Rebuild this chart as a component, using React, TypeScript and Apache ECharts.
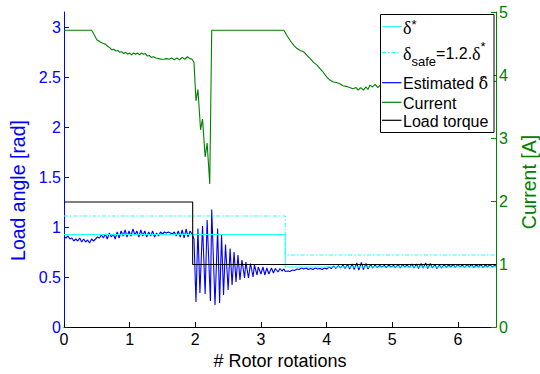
import React, { useEffect, useRef } from 'react';
import * as echarts from 'echarts';

const xTicks = [0, 1, 2, 3, 4, 5, 6];
const leftTicks = [0, 0.5, 1, 1.5, 2, 2.5, 3];
const rightTicks = [0, 1, 2, 3, 4, 5];

const loadTorque = [[0, 1.25], [1.96, 1.25], [1.96, 0.625], [6.58, 0.625]];
const deltaStar = [[0, 0.925], [3.37, 0.925], [3.37, 0.6], [6.58, 0.6]];
const deltaSafe = [[0, 1.11], [3.37, 1.11], [3.37, 0.72], [6.58, 0.72]];

const estimatedDelta = [
  [0.0, 0.9], [0.03, 0.89], [0.06, 0.91], [0.09, 0.88], [0.12, 0.89], [0.15, 0.86], [0.18, 0.88],
  [0.21, 0.86], [0.24, 0.89], [0.27, 0.85], [0.3, 0.88], [0.33, 0.85], [0.36, 0.87], [0.39, 0.84],
  [0.42, 0.88], [0.45, 0.86], [0.48, 0.88], [0.51, 0.9], [0.54, 0.89], [0.57, 0.92], [0.6, 0.89],
  [0.63, 0.93], [0.66, 0.88], [0.69, 0.94], [0.72, 0.9], [0.75, 0.93], [0.78, 0.88], [0.81, 0.95],
  [0.84, 0.89], [0.87, 0.96], [0.9, 0.91], [0.93, 0.97], [0.96, 0.9], [0.99, 0.96], [1.02, 0.91],
  [1.05, 0.98], [1.08, 0.92], [1.11, 0.96], [1.14, 0.9], [1.17, 0.97], [1.2, 0.91], [1.23, 0.96],
  [1.26, 0.9], [1.29, 0.95], [1.32, 0.91], [1.35, 0.96], [1.38, 0.9], [1.41, 0.94], [1.44, 0.91],
  [1.47, 0.95], [1.5, 0.93], [1.53, 0.95], [1.56, 0.94], [1.59, 0.95], [1.62, 0.94], [1.65, 0.93],
  [1.68, 0.95], [1.71, 0.91], [1.74, 0.96], [1.77, 0.9], [1.8, 0.97], [1.83, 0.89], [1.86, 0.98],
  [1.89, 0.9], [1.92, 0.96], [1.95, 0.93], [1.98, 0.88],
  [2.01, 0.25], [2.04, 0.985], [2.07, 0.34], [2.11, 1.01], [2.15, 0.33], [2.18, 1.07], [2.23, 0.26],
  [2.25, 1.175], [2.3, 0.22], [2.34, 0.985], [2.37, 0.24], [2.4, 0.92], [2.43, 0.32], [2.46, 0.825],
  [2.5, 0.37], [2.53, 0.785], [2.56, 0.42], [2.59, 0.75], [2.62, 0.45], [2.65, 0.72], [2.68, 0.47],
  [2.71, 0.67], [2.75, 0.49], [2.77, 0.65], [2.81, 0.49], [2.84, 0.635], [2.88, 0.5], [2.9, 0.62],
  [2.94, 0.52], [2.96, 0.6], [3.0, 0.53], [3.03, 0.6], [3.06, 0.52], [3.09, 0.59], [3.12, 0.53],
  [3.16, 0.59], [3.19, 0.54], [3.22, 0.585], [3.26, 0.55], [3.29, 0.585], [3.32, 0.56], [3.35, 0.58],
  [3.37, 0.555], [3.41, 0.56], [3.44, 0.555], [3.48, 0.57], [3.51, 0.565], [3.55, 0.58], [3.58, 0.575],
  [3.62, 0.59], [3.65, 0.58], [3.69, 0.59], [3.72, 0.575], [3.76, 0.585], [3.79, 0.575], [3.83, 0.59],
  [3.86, 0.58], [3.9, 0.585], [3.93, 0.575], [3.97, 0.59], [4.0, 0.58], [4.04, 0.6], [4.07, 0.585],
  [4.11, 0.61], [4.14, 0.585], [4.18, 0.615], [4.21, 0.59], [4.25, 0.62], [4.28, 0.585], [4.32, 0.625],
  [4.35, 0.58], [4.39, 0.63], [4.42, 0.575], [4.46, 0.64], [4.49, 0.57], [4.53, 0.645], [4.56, 0.575],
  [4.6, 0.635], [4.63, 0.58], [4.67, 0.625], [4.7, 0.59], [4.74, 0.62], [4.77, 0.595], [4.81, 0.615],
  [4.84, 0.6], [4.88, 0.615], [4.91, 0.595], [4.95, 0.62], [4.98, 0.6], [5.02, 0.615], [5.05, 0.595],
  [5.09, 0.625], [5.12, 0.59], [5.16, 0.625], [5.19, 0.6], [5.23, 0.62], [5.26, 0.595], [5.3, 0.63],
  [5.33, 0.59], [5.37, 0.63], [5.4, 0.585], [5.44, 0.635], [5.47, 0.59], [5.51, 0.64], [5.54, 0.585],
  [5.58, 0.635], [5.61, 0.59], [5.65, 0.625], [5.68, 0.585], [5.72, 0.62], [5.75, 0.59], [5.79, 0.625],
  [5.82, 0.595], [5.86, 0.62], [5.89, 0.6], [5.93, 0.625], [5.96, 0.595], [6.0, 0.625], [6.03, 0.6],
  [6.07, 0.62], [6.1, 0.595], [6.14, 0.625], [6.17, 0.6], [6.21, 0.625], [6.24, 0.595], [6.28, 0.62],
  [6.31, 0.6], [6.35, 0.625], [6.38, 0.595], [6.42, 0.62], [6.45, 0.6], [6.49, 0.625], [6.52, 0.6],
  [6.56, 0.615], [6.58, 0.61],
];

const current = [
  [0, 4.71], [0.42, 4.71], [0.45, 4.66], [0.48, 4.6], [0.5, 4.56], [0.53, 4.54], [0.56, 4.52],
  [0.6, 4.5], [0.63, 4.49], [0.66, 4.46], [0.7, 4.43], [0.73, 4.4], [0.76, 4.41], [0.79, 4.38],
  [0.82, 4.39], [0.85, 4.36], [0.88, 4.37], [0.91, 4.34], [0.94, 4.36], [0.97, 4.33], [1.0, 4.35],
  [1.03, 4.32], [1.06, 4.35], [1.09, 4.33], [1.12, 4.35], [1.15, 4.32], [1.18, 4.35], [1.21, 4.33],
  [1.24, 4.34], [1.27, 4.3], [1.3, 4.31], [1.33, 4.28], [1.36, 4.29], [1.4, 4.27], [1.44, 4.26],
  [1.48, 4.25], [1.52, 4.25], [1.56, 4.26], [1.6, 4.25], [1.64, 4.27], [1.68, 4.24], [1.72, 4.27],
  [1.76, 4.24], [1.8, 4.28], [1.84, 4.25], [1.88, 4.29], [1.92, 4.26], [1.95, 4.25], [1.98, 4.2],
  [2.01, 3.59], [2.04, 3.77], [2.08, 3.13], [2.11, 3.3], [2.15, 2.7], [2.18, 2.92], [2.22, 2.27],
  [2.25, 4.71], [3.35, 4.71], [3.4, 4.62], [3.45, 4.54], [3.5, 4.47], [3.55, 4.42], [3.6, 4.39],
  [3.65, 4.37], [3.7, 4.31], [3.75, 4.26], [3.8, 4.2], [3.85, 4.16], [3.9, 4.1], [3.95, 4.04],
  [4.0, 3.97], [4.05, 3.92], [4.1, 3.89], [4.15, 3.88], [4.2, 3.86], [4.25, 3.83], [4.3, 3.82],
  [4.35, 3.8], [4.4, 3.78], [4.45, 3.8], [4.48, 3.76], [4.52, 3.8], [4.56, 3.76], [4.6, 3.81],
  [4.63, 3.77], [4.66, 3.84], [4.7, 3.81], [4.74, 3.85], [4.78, 3.8], [4.82, 3.84], [5.0, 3.86],
  [5.5, 3.88], [6.0, 3.9], [6.58, 3.9],
];

const SANS = 'Liberation Sans, Arial, Helvetica, sans-serif';
const SERIF = 'Liberation Serif, Times New Roman, serif';
const BLUE = '#0000ff';
const GREEN = '#008000';
const CYAN = '#22ffff';

const rich = {
  d: { fontFamily: SERIF, fontSize: 18, lineHeight: 20, fill: '#000' },
  sup: { fontFamily: SANS, fontSize: 13, lineHeight: 14, verticalAlign: 'top', fill: '#000' },
  D: { fontFamily: SERIF, fontSize: 18, lineHeight: 28, fill: '#000' },
  sub: { fontFamily: SANS, fontSize: 13, lineHeight: 10, verticalAlign: 'bottom', fill: '#000' },
  n: { fontFamily: SANS, fontSize: 16, lineHeight: 28, fill: '#000' },
  t: { fontFamily: SANS, fontSize: 16, lineHeight: 17, fill: '#000' },
  h: { fontFamily: 'DejaVu Serif, serif', fontSize: 16, lineHeight: 17, fill: '#000' },
};

// legend rows: label, line colour, dash, row centre (px)
const legendEntries: { text: string; color: string; dash: number[] | null; y: number }[] = [
  { text: '{d|δ}{sup|*}', color: CYAN, dash: null, y: 26.7 },
  { text: '{D|δ}{sub|safe}{n|=1.2.}{D|δ}{sup|*}', color: CYAN, dash: [4, 2, 1.5, 2], y: 52.7 },
  { text: '{t|Estimated }{h|δ̂}', color: BLUE, dash: null, y: 82.7 },
  { text: '{t|Current}', color: GREEN, dash: null, y: 102.3 },
  { text: '{t|Load torque}', color: '#000', dash: null, y: 120.3 },
];

export default function App() {
  const ref = useRef<HTMLDivElement>(null);
  useEffect(() => {
    const chart = echarts.init(ref.current!, null, { renderer: 'svg' });
    const legendGraphics: any[] = [
      {
        type: 'rect',
        z: 9,
        shape: { x: 380.5, y: 14.5, width: 113.5, height: 118 },
        style: { fill: '#fff', stroke: '#000', lineWidth: 1 },
      },
    ];
    legendEntries.forEach((e) => {
      legendGraphics.push({
        type: 'line',
        z: 10,
        shape: { x1: 382, y1: e.y, x2: 401.5, y2: e.y },
        style: { stroke: e.color, lineWidth: 1.2, lineDash: e.dash || undefined },
      });
      legendGraphics.push({
        type: 'text',
        z: 10,
        x: 403,
        y: e.y + 1,
        style: {
          text: e.text,
          rich,
          fill: '#000',
          fontFamily: SANS,
          fontSize: 16,
          align: 'left',
          verticalAlign: 'middle',
        },
      });
    });
    chart.setOption({
      animation: false,
      backgroundColor: '#fff',
      grid: { left: 64, right: 44, top: 12, bottom: 47, containLabel: false, outerBoundsMode: 'none' },
      graphic: legendGraphics,
      xAxis: {
        type: 'value',
        min: 0,
        max: 6.58,
        interval: 1,
        name: '# Rotor rotations',
        nameLocation: 'middle',
        nameGap: 21,
        nameTextStyle: { fontFamily: SANS, fontSize: 18, color: '#000' },
        axisLine: { onZero: false, lineStyle: { color: '#000', width: 1 } },
        axisTick: { inside: true, length: 5, customValues: xTicks, lineStyle: { color: '#000' } },
        axisLabel: {
          customValues: xTicks,
          margin: 4,
          fontFamily: SANS,
          fontSize: 16,
          color: '#000',
          formatter: (v: number) => (Number.isInteger(v) ? String(v) : ''),
        },
        splitLine: { show: false },
      },
      yAxis: [
        {
          type: 'value',
          position: 'left',
          min: 0,
          max: 3.15,
          interval: 0.5,
          name: 'Load angle [rad]',
          nameLocation: 'middle',
          nameGap: 28,
          nameTextStyle: { fontFamily: SANS, fontSize: 19.5, color: BLUE, padding: [0, 42, 0, 0] },
          axisLine: { show: true, onZero: false, lineStyle: { color: BLUE, width: 1 } },
          axisTick: { show: true, inside: true, length: 5, customValues: leftTicks, lineStyle: { color: BLUE } },
          axisLabel: {
            customValues: leftTicks,
            margin: 3,
            fontFamily: SANS,
            fontSize: 16,
            color: BLUE,
            formatter: (v: number) => (Math.abs(v * 2 - Math.round(v * 2)) < 1e-6 ? String(v) : ''),
          },
          splitLine: { show: false },
        },
        {
          type: 'value',
          position: 'right',
          min: 0,
          max: 5,
          interval: 1,
          name: 'Current [A]',
          nameLocation: 'middle',
          nameGap: 13,
          nameTextStyle: { fontFamily: SANS, fontSize: 19.5, color: GREEN, padding: [0, 25, 0, 0] },
          axisLine: { show: true, onZero: false, lineStyle: { color: GREEN, width: 1 } },
          axisTick: { show: true, inside: true, length: 5, customValues: rightTicks, lineStyle: { color: GREEN } },
          axisLabel: {
            customValues: rightTicks,
            margin: 3,
            fontFamily: SANS,
            fontSize: 16,
            color: GREEN,
          },
          splitLine: { show: false },
        },
      ],
      series: [
        {
          name: 'Estimated δ̂',
          type: 'line',
          yAxisIndex: 0,
          data: estimatedDelta,
          symbol: 'none',
          lineStyle: { color: BLUE, width: 1.1 },
          itemStyle: { color: BLUE },
        },
        {
          name: 'δ*',
          type: 'line',
          yAxisIndex: 0,
          data: deltaStar,
          symbol: 'none',
          lineStyle: { color: CYAN, width: 1.1 },
          itemStyle: { color: CYAN },
        },
        {
          name: 'δsafe=1.2.δ*',
          type: 'line',
          yAxisIndex: 0,
          data: deltaSafe,
          symbol: 'none',
          lineStyle: { color: CYAN, width: 1.1, type: [4, 2, 1.5, 2] },
          itemStyle: { color: CYAN },
        },
        {
          name: 'Current',
          type: 'line',
          yAxisIndex: 1,
          data: current,
          symbol: 'none',
          lineStyle: { color: GREEN, width: 1.1 },
          itemStyle: { color: GREEN },
        },
        {
          name: 'Load torque',
          type: 'line',
          yAxisIndex: 0,
          data: loadTorque,
          symbol: 'none',
          lineStyle: { color: '#000', width: 1.1 },
          itemStyle: { color: '#000' },
        },
      ],
    });
    return () => chart.dispose();
  }, []);
  return <div ref={ref} style={{ position: 'fixed', left: 0, top: 0, width: 540, height: 374 }} />;
}
